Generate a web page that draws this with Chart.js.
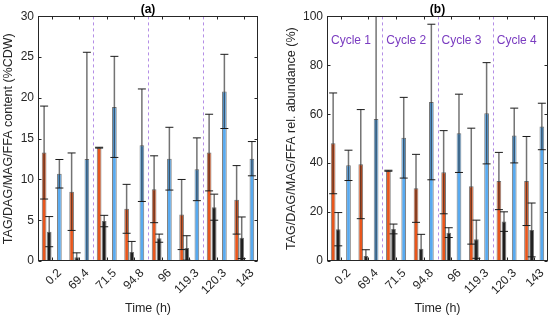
<!DOCTYPE html>
<html>
<head>
<meta charset="utf-8">
<script src="https://cdn.jsdelivr.net/npm/chart.js@4.4.0/dist/chart.umd.min.js"></script>
<style>
body { margin: 0; background: #fff; }
#wrap { position: relative; width: 550px; height: 320px; }
canvas { position: absolute; top: 0; }
#chartA { left: 0; }
#chartB { left: 275px; }
</style>
</head>
<body>
<div id="wrap">
<canvas id="chartA" width="275" height="320"></canvas>
<canvas id="chartB" width="275" height="320"></canvas>
</div>
<script>
const timeLabels = ['0.2', '69.4', '71.5', '94.8', '96', '119.3', '120.3', '143'];

// panel (a): content, %CDW
const tagA = [13.3, 8.5, 13.9, 6.4, 8.8, 5.7, 13.3, 7.5];
const tagErrA = [5.7, 4.75, 0.05, 3.0, 4.1, 4.3, 4.7, 4.2];
const dagA = [3.6, 0.45, 4.9, 1.1, 2.8, 1.6, 6.6, 2.85];
const dagErrA = [1.85, 0.55, 0.7, 1.3, 0.5, 1.5, 1.6, 2.55];
const magA = [0.1, 0.1, 0.1, 0.1, 0.1, 0.1, 0.1, 0.1];
const ffaA = [10.7, 12.5, 18.9, 14.2, 12.55, 11.25, 20.8, 12.55];
const ffaErrA = [1.75, 13.1, 6.2, 6.9, 3.85, 3.85, 4.55, 2.1];

// panel (b): relative abundance, %
const tagB = [48.1, 39.6, 36.9, 29.7, 36.3, 30.6, 32.7, 32.7];
const tagErrB = [20.6, 22.3, 0.2, 13.9, 17.0, 23.7, 11.7, 18.2];
const dagB = [13.0, 2.0, 13.1, 5.0, 11.6, 8.9, 16.1, 12.7];
const dagErrB = [6.8, 2.6, 2.0, 5.9, 2.0, 7.8, 4.0, 11.0];
const magB = [0.4, 0.4, 0.4, 0.4, 0.4, 0.4, 0.4, 0.4];
const ffaB = [39.1, 58.1, 50.4, 65.0, 52.2, 60.4, 51.3, 55.0];
const ffaErrB = [6.2, 60, 16.5, 31.8, 16.0, 20.7, 11.2, 9.5];

const cycleLabels = ['Cycle 1', 'Cycle 2', 'Cycle 3', 'Cycle 4'];
const dividerAfter = [1, 3, 5];

const textColor = '#262626';
Chart.defaults.font.family = '"Liberation Sans", Arial, sans-serif';
Chart.defaults.color = textColor;

const framePlugin = {
    id: 'frame',
    beforeDatasetsDraw(chart) {
        const { ctx, chartArea: a, scales: { x } } = chart;
        const mids = dividerAfter.map(i => (x.getPixelForValue(i) + x.getPixelForValue(i + 1)) / 2);
        ctx.save();
        ctx.strokeStyle = '#b48ee6';
        ctx.lineWidth = 1;
        ctx.setLineDash([3, 3]);
        mids.forEach(m => {
            const px = Math.round(m) + 0.5;
            ctx.beginPath();
            ctx.moveTo(px, a.top);
            ctx.lineTo(px, a.bottom);
            ctx.stroke();
        });
        ctx.restore();
        const cycles = chart.options.plugins.frame.cycles;
        if (cycles) {
            ctx.save();
            ctx.fillStyle = '#7a3cc0';
            ctx.font = '12px "Liberation Sans", Arial, sans-serif';
            ctx.textAlign = 'left';
            ctx.textBaseline = 'middle';
            [a.left, ...mids].forEach((s, k) => ctx.fillText(cycles[k], s + 4, a.top + 24));
            ctx.restore();
        }
    },
    afterDatasetsDraw(chart) {
        const { ctx, chartArea: a, scales: { x, y } } = chart;
        ctx.save();
        ctx.beginPath();
        ctx.rect(a.left, a.top, a.right - a.left, a.bottom - a.top);
        ctx.clip();
        chart.data.datasets.forEach((ds, di) => {
            if (!ds.errors) return;
            chart.getDatasetMeta(di).data.forEach((bar, i) => {
                const v = ds.data[i];
                const e = ds.errors[i];
                const yTop = y.getPixelForValue(v + e);
                const yBot = y.getPixelForValue(v - e);
                ctx.strokeStyle = 'rgba(40,40,40,0.65)';
                ctx.lineWidth = 1.5;
                ctx.beginPath();
                ctx.moveTo(bar.x, yTop);
                ctx.lineTo(bar.x, yBot);
                ctx.stroke();
                ctx.strokeStyle = '#1a1a1a';
                ctx.lineWidth = 1;
                [yTop, yBot].forEach(py => {
                    ctx.beginPath();
                    ctx.moveTo(bar.x - 4, py);
                    ctx.lineTo(bar.x + 4, py);
                    ctx.stroke();
                });
            });
        });
        ctx.restore();

        ctx.save();
        ctx.strokeStyle = textColor;
        ctx.lineWidth = 1;
        const l = Math.round(a.left) + 0.5, r = Math.round(a.right) - 0.5;
        const t = Math.round(a.top) + 0.5, b = Math.round(a.bottom) - 0.5;
        ctx.strokeRect(l, t, r - l, b - t);
        ctx.beginPath();
        y.ticks.forEach(tk => {
            const py = Math.round(y.getPixelForValue(tk.value)) + 0.5;
            ctx.moveTo(l, py); ctx.lineTo(l + 3, py);
            ctx.moveTo(r, py); ctx.lineTo(r - 3, py);
        });
        timeLabels.forEach((lab, i) => {
            const px = Math.round(x.getPixelForValue(i)) + 0.5;
            ctx.moveTo(px, b); ctx.lineTo(px, b - 3);
            ctx.moveTo(px, t); ctx.lineTo(px, t + 3);
        });
        ctx.stroke();
        ctx.restore();
    }
};

function makeDatasets(tag, tagErr, dag, dagErr, mag, ffa, ffaErr) {
    const common = { borderWidth: 1, borderColor: 'rgba(30,30,30,0.6)', categoryPercentage: 0.74, barPercentage: 0.92 };
    return [
        { label: 'TAG', data: tag, errors: tagErr, backgroundColor: 'rgb(232,86,28)', ...common },
        { label: 'DAG', data: dag, errors: dagErr, backgroundColor: '#1c1c1c', ...common },
        { label: 'MAG', data: mag, backgroundColor: '#3a3a3a', ...common },
        { label: 'FFA', data: ffa, errors: ffaErr, backgroundColor: 'rgb(88,170,240)', ...common },
    ];
}

function makeOptions(panel, yMax, yStep, yTitle, yWidth, yTitlePad, rightPad, cycles) {
    return {
        responsive: false,
        animation: false,
        devicePixelRatio: 1,
        layout: { padding: { left: 0, right: rightPad, top: 0, bottom: 0 } },
        plugins: {
            legend: { display: false },
            tooltip: { enabled: false },
            title: {
                display: true,
                text: panel,
                fullSize: false,
                color: '#000',
                font: { size: 12, weight: 'bold' },
                padding: { top: 2, bottom: 0 },
            },
            frame: { cycles: cycles },
        },
        scales: {
            x: {
                grid: { display: false, drawTicks: false },
                border: { display: false },
                ticks: { autoSkip: false, maxRotation: 45, minRotation: 45, font: { size: 12 }, padding: 5, labelOffset: 8 },
                title: { display: true, text: 'Time (h)', font: { size: 12.5 }, padding: { top: 4, bottom: 4 } },
                afterFit(s) { s.height = 59; },
            },
            y: {
                min: 0,
                max: yMax,
                grid: { display: false, drawTicks: false },
                border: { display: false },
                ticks: { stepSize: yStep, font: { size: 12 }, padding: 4 },
                title: { display: true, text: yTitle, font: { size: 12.5 }, padding: { top: yTitlePad, bottom: 0 } },
                afterFit(s) { s.width = yWidth; },
            },
        },
    };
}

const chartA = new Chart(document.getElementById('chartA'), {
    type: 'bar',
    data: { labels: timeLabels, datasets: makeDatasets(tagA, tagErrA, dagA, dagErrA, magA, ffaA, ffaErrA) },
    options: makeOptions('(a)', 30, 5, 'TAG/DAG/MAG/FFA content (%CDW)', 38, 1.5, 17, null),
    plugins: [framePlugin],
});

const chartB = new Chart(document.getElementById('chartB'), {
    type: 'bar',
    data: { labels: timeLabels, datasets: makeDatasets(tagB, tagErrB, dagB, dagErrB, magB, ffaB, ffaErrB) },
    options: makeOptions('(b)', 100, 20, 'TAG/DAG/MAG/FFA rel. abundance (%)', 52, 9.5, 2, cycleLabels),
    plugins: [framePlugin],
});
</script>
</body>
</html>
